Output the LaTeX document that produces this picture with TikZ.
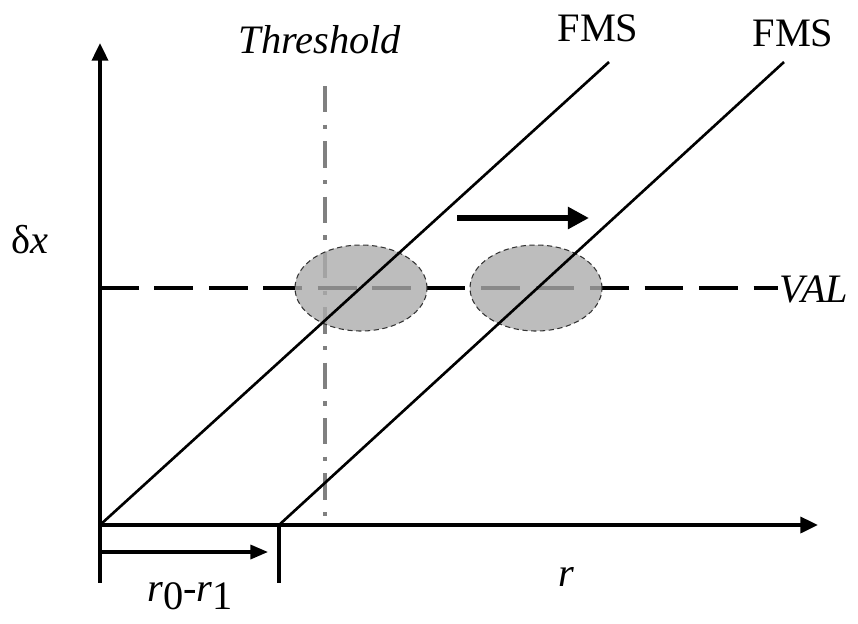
\documentclass[tikz,border=0pt]{standalone}
\usepackage{fontspec}
\setmainfont{Liberation Serif}
\usetikzlibrary{arrows.meta,shapes.geometric}
\begin{document}
\begin{tikzpicture}[x=0.02cm,y=-0.02cm,
  font=\fontsize{23}{27}\selectfont,
  eje/.style={line width=2.2pt,-{Triangle[length=10pt,width=9pt]}},
  recta/.style={line width=1.5pt},
  umbral/.style={draw=gray,line width=2.6pt,dash pattern=on 15pt off 7pt on 2.5pt off 7pt},
  valor/.style={line width=2.4pt,dash pattern=on 22pt off 9pt},
  zona/.style={draw=gray!40!black,densely dashed,line width=0.6pt,fill=gray!65,fill opacity=0.8},
  txt/.style={inner sep=0pt}]
\useasboundingbox (0,0) rectangle (858,623);

% Puntos
\coordinate (O) at (100,525);
\coordinate (Y) at (100,43);
\coordinate (X) at (818,525);
\coordinate (R1) at (279,525);
\coordinate (F1) at (609,62);
\coordinate (F2) at (784,62);
\coordinate (T0) at (325,86);
\coordinate (T1) at (325,525);
\coordinate (V1) at (778,288);

% Umbral y VAL
\draw[umbral] (T0) -- (T1);
\draw[valor] (100,288) -- (V1);

% Zonas
\node[zona,ellipse,minimum width=132*0.02cm,minimum height=86*0.02cm] (Z1) at (361,288) {};
\node[zona,ellipse,minimum width=132*0.02cm,minimum height=86*0.02cm] (Z2) at (536,288) {};

% Rectas FMS
\draw[recta] (O) -- (F1);
\draw[recta] (R1) -- (F2);

% Ejes
\draw[eje] (O) -- (Y);
\draw[eje] (O) -- (X);

% Desplazamiento
\draw[line width=2.2pt] (O) -- (100,583);
\draw[line width=2.2pt] (R1) -- (279,583);
\draw[line width=1.8pt,-{Triangle[length=10pt,width=8pt]}] (100,552) -- (268,552);
\draw[line width=3.4pt,-{Triangle[length=12pt,width=12pt]}] (457,218) -- (589,218);

% Textos
\node[txt] (lT) at (320,40) {\textit{Threshold}};
\node[txt] (lF1) at (598,28) {FMS};
\node[txt] (lF2) at (793,33) {FMS};
\node[txt,anchor=west] (lV) at (779,289) {\textit{VAL}};
\node[txt] (ld) at (30,240) {δ\textit{x}};
\node[txt] (lr) at (566,577) {\textit{r}};
\node[txt] (lr0) at (190,596) {\textit{r}\raisebox{-0.4ex}{0}-\textit{r}\raisebox{-0.4ex}{1}};

\end{tikzpicture}
\end{document}
